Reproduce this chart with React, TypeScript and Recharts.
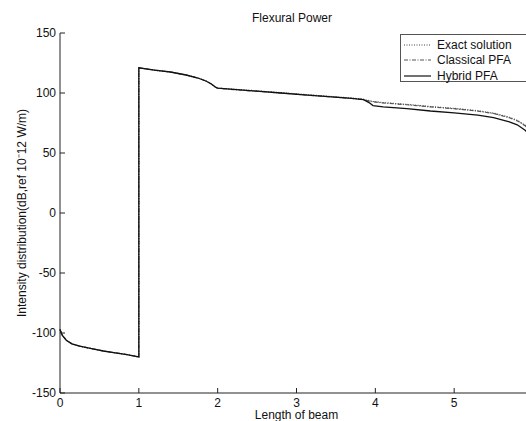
import { CartesianGrid, Legend, Line, LineChart, XAxis, YAxis } from "recharts";

// positions along the beam (the jump at x = 1 appears twice on purpose)
const beamX = [
  0, 0.03, 0.08, 0.15, 0.25, 0.4, 0.55, 0.7, 0.85, 1, 1, 1.2, 1.4, 1.6, 1.75, 1.85, 1.92, 1.97, 2.0,
  2.2, 2.5, 2.8, 3.1, 3.4, 3.7, 3.85, 3.92, 3.97, 4.1, 4.4, 4.7, 5.0, 5.3, 5.5, 5.7, 5.8, 5.9, 6.0,
];

const exactSolution = [
  -97, -102, -106, -109, -111, -113, -115, -116.5, -118, -120, 121, 119, 117.5, 115, 112.5, 110, 107.5, 105, 104,
  103.2, 101.8, 100.3, 98.8, 97.3, 95.8, 94.8, 93.6, 93, 92, 90.5, 88.7, 87.2, 85.2, 83.2, 79.8, 77.2, 73.2, 66,
];

const classicalPFA = [
  -97, -102, -106, -109, -111, -113, -115, -116.5, -118, -120, 121, 119, 117.5, 115, 112.5, 110, 107.5, 105, 104,
  102.8, 101.4, 100, 98.4, 97, 95.4, 94.5, 93.3, 92.7, 91.7, 90.2, 88.4, 86.9, 84.9, 82.9, 79.4, 76.8, 72.8, 65.5,
];

const hybridPFA = [
  -97, -102, -106, -109, -111, -113, -115, -116.5, -118, -120, 121, 119, 117.5, 115, 112.5, 110, 107.5, 105, 104,
  103, 101.5, 100, 98.5, 97, 95.5, 94.5, 92, 89.5, 88.5, 87, 85, 83.5, 81.5, 79.5, 76, 73.5, 69, 62,
];

// the axis runs to 6, but the picture is cut just before that tick
const xTicks = [0, 1, 2, 3, 4, 5];
const yTicks = [-150, -100, -50, 0, 50, 100, 150];

const seriesNames = ["Exact solution", "Classical PFA", "Hybrid PFA"];

const data = beamX.map((x, i) => ({
  x,
  exact: exactSolution[i],
  classical: classicalPFA[i],
  hybrid: hybridPFA[i],
}));

const FONT = '"Liberation Sans", Arial, sans-serif';

const legendRows = [
  { name: seriesNames[0], dash: "1 1.5", color: "#444" },
  { name: seriesNames[1], dash: "4 1.5 1 1.5", color: "#555" },
  { name: seriesNames[2], dash: undefined, color: "#111" },
];

function LegendBox() {
  return (
    <div
      style={{
        border: "1px solid #555",
        background: "#fff",
        width: 140,
        height: 48,
        boxSizing: "border-box",
        paddingTop: 2,
        fontFamily: FONT,
        fontSize: 12,
        color: "#111",
      }}
    >
      {legendRows.map((r) => (
        <div key={r.name} style={{ display: "flex", alignItems: "center", height: 15.5 }}>
          <svg width={36} height={10} style={{ flex: "none" }}>
            <line x1={3} y1={5} x2={30} y2={5} stroke={r.color} strokeWidth={1.2} strokeDasharray={r.dash} />
          </svg>
          <span style={{ whiteSpace: "nowrap" }}>{r.name}</span>
        </div>
      ))}
    </div>
  );
}

function YLabel(props: any) {
  const vb = props.viewBox ?? {};
  const cy = (vb.y ?? 0) + (vb.height ?? 0) / 2;
  return (
    <text
      x={22}
      y={cy}
      transform={`rotate(-90, 22, ${cy})`}
      textAnchor="middle"
      dominantBaseline="central"
      fontFamily={FONT}
      fontSize={12}
      fill="#111"
    >
      Intensity distribution(dB,ref 10⁻12 W/m)
    </text>
  );
}

export default function App() {
  return (
    <div
      style={{
        position: "absolute",
        left: 0,
        top: 0,
        width: 526,
        height: 421,
        overflow: "hidden",
        background: "#fff",
        fontFamily: FONT,
      }}
    >
      <div
        style={{
          position: "absolute",
          left: 0,
          width: 584,
          top: 11,
          textAlign: "center",
          fontSize: 12,
          color: "#111",
        }}
      >
        Flexural Power
      </div>
      <LineChart
        width={560}
        height={421}
        data={data}
        margin={{ top: 33, right: 27, left: 0, bottom: 2 }}
        style={{ position: "absolute", left: 0, top: 0 }}
      >
        <CartesianGrid stroke="none" />
        <XAxis
          type="number"
          dataKey="x"
          domain={[0, 6]}
          ticks={xTicks}
          height={26}
          tickSize={-5}
          tickMargin={10}
          stroke="#222"
          tick={{ fill: "#111", fontSize: 12, fontFamily: FONT }}
          label={{ value: "Length of beam", position: "insideBottom", offset: 0, fill: "#111", fontSize: 12, fontFamily: FONT }}
        />
        <YAxis
          type="number"
          domain={[-150, 150]}
          ticks={yTicks}
          width={60}
          tickSize={-5}
          tickMargin={9}
          stroke="#222"
          tick={{ fill: "#111", fontSize: 12, fontFamily: FONT }}
          label={<YLabel />}
        />
        <Legend
          layout="horizontal"
          verticalAlign="middle"
          align="center"
          content={() => <LegendBox />}
          wrapperStyle={{ left: 400, top: 34, width: 140, height: 48 }}
        />
        <Line
          type="linear"
          dataKey="exact"
          name={seriesNames[0]}
          stroke="#444"
          strokeWidth={1.2}
          strokeDasharray="1 1.5"
          dot={false}
          isAnimationActive={false}
        />
        <Line
          type="linear"
          dataKey="classical"
          name={seriesNames[1]}
          stroke="#555"
          strokeWidth={1.2}
          strokeDasharray="4 1.5 1 1.5"
          dot={false}
          isAnimationActive={false}
        />
        <Line
          type="linear"
          dataKey="hybrid"
          name={seriesNames[2]}
          stroke="#111"
          strokeWidth={1.3}
          dot={false}
          isAnimationActive={false}
        />
      </LineChart>
    </div>
  );
}
